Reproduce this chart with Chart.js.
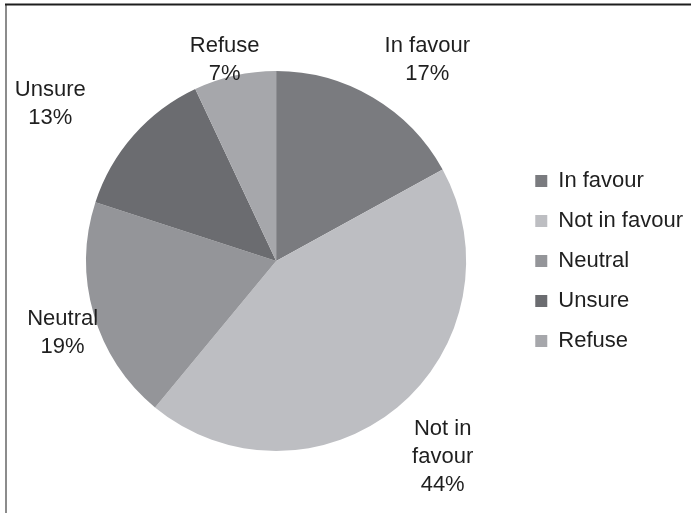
<!DOCTYPE html>
<html><head><meta charset="utf-8">
<script src="https://cdn.jsdelivr.net/npm/chart.js@4/dist/chart.umd.min.js"></script>
<style>html,body{margin:0;padding:0;background:#fff}canvas{display:block}</style>
</head><body>
<canvas id="c" width="691" height="513"></canvas>
<script>
const categories = ['In favour', 'Not in favour', 'Neutral', 'Unsure', 'Refuse'];
const shares = [17, 44, 19, 13, 7];
const sliceColors = ['#7a7b7f', '#bdbec2', '#949599', '#6b6c70', '#a6a7ab'];

const FONT = "'Liberation Sans', Arial, sans-serif";
const labelNudges = [[20, 8], [10, -2], [27, 4], [-38, 4], [3, 36]];

function wrapText(ctx, text, maxW) {
  const words = text.split(' ');
  const lines = [];
  let cur = '';
  for (const w of words) {
    const t = cur ? cur + ' ' + w : w;
    if (cur && ctx.measureText(t).width > maxW) { lines.push(cur); cur = w; } else cur = t;
  }
  if (cur) lines.push(cur);
  return lines;
}

const framePlugin = {
  id: 'frame',
  beforeDraw(chart) {
    const ctx = chart.ctx;
    ctx.save();
    ctx.fillStyle = '#ffffff';
    ctx.fillRect(0, 0, chart.width, chart.height);
    ctx.lineWidth = 2;
    ctx.strokeStyle = '#8c8c8c';
    ctx.beginPath(); ctx.moveTo(6, 4); ctx.lineTo(6, chart.height); ctx.stroke();
    ctx.strokeStyle = '#1e1e1e';
    ctx.beginPath(); ctx.moveTo(5, 4.5); ctx.lineTo(chart.width, 4.5); ctx.stroke();
    ctx.restore();
  }
};

const outsideLabels = {
  id: 'outsideLabels',
  afterDatasetsDraw(chart) {
    const ctx = chart.ctx;
    const meta = chart.getDatasetMeta(0);
    const data = chart.data.datasets[0].data;
    const total = data.reduce((a, b) => a + b, 0);
    ctx.save();
    ctx.font = '22px ' + FONT;
    ctx.fillStyle = '#1f1f1f';
    ctx.textAlign = 'center';
    ctx.textBaseline = 'middle';
    const lh = 28;
    meta.data.forEach((arc, i) => {
      const p = arc.getProps(['x', 'y', 'startAngle', 'endAngle', 'outerRadius'], true);
      const mid = (p.startAngle + p.endAngle) / 2;
      const dx = Math.cos(mid), dy = Math.sin(mid);
      const lines = wrapText(ctx, chart.data.labels[i], 90);
      lines.push(Math.round(data[i] / total * 100) + '%');
      const w = Math.max(...lines.map(l => ctx.measureText(l).width));
      const h = lines.length * lh;
      const d = p.outerRadius + 25;
      const cx = p.x + dx * d + dx * w / 2 + labelNudges[i][0];
      const cy = p.y + dy * d + dy * h / 2 + labelNudges[i][1];
      lines.forEach((l, k) => {
        ctx.fillText(l, cx, cy - h / 2 + lh / 2 + k * lh);
      });
    });
    ctx.restore();
  }
};

new Chart(document.getElementById('c'), {
  type: 'pie',
  data: {
    labels: categories,
    datasets: [{
      data: shares,
      backgroundColor: sliceColors,
      borderWidth: 0
    }]
  },
  options: {
    responsive: false,
    animation: false,
    devicePixelRatio: 1,
    layout: { padding: { top: 71, bottom: 62, left: 35, right: -2 } },
    plugins: {
      tooltip: { enabled: false },
      legend: {
        position: 'right',
        align: 'center',
        labels: {
          boxWidth: 12,
          boxHeight: 12,
          padding: 18,
          color: '#1f1f1f',
          font: { family: FONT, size: 22 }
        }
      }
    }
  },
  plugins: [framePlugin, outsideLabels]
});
</script>
</body></html>
